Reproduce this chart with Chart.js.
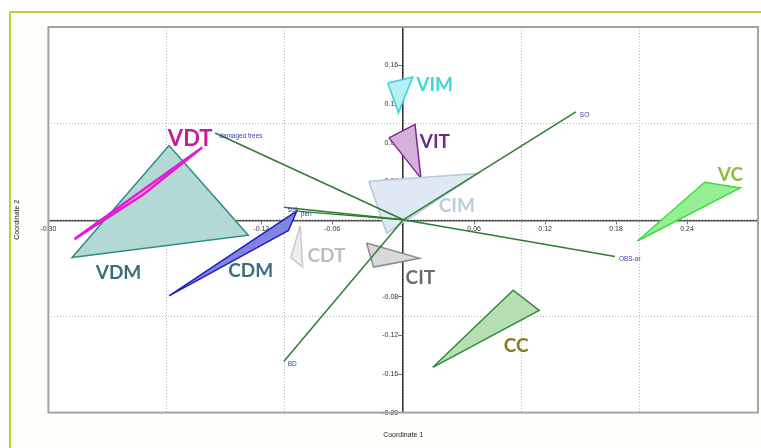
<!DOCTYPE html>
<html>
<head>
<meta charset="utf-8">
<script src="https://cdn.jsdelivr.net/npm/chart.js@4.4.1/dist/chart.umd.min.js"></script>
<style>
  html, body { margin: 0; padding: 0; background: #fff; overflow: hidden; }
  #frame { position: absolute; left: 9px; top: 11px; width: 800px; height: 500px;
           border-left: 2px solid #b9d04a; border-top: 2px solid #b9d04a; background: #fffef8; }
  #wrap { position: absolute; left: 0; top: 0; width: 761px; height: 448px; }
</style>
</head>
<body>
<div id="frame"></div>
<div id="wrap"><canvas id="pcoa"></canvas></div>
<script>
/* ===== data (Coordinate 1, Coordinate 2) ===== */
// first group is drawn on top
const groupNames = ["VDT", "VDM", "CDM", "CDT", "CIT", "CIM", "VIM", "VIT", "VC", "CC"];

// convex hulls of each group
const hullVDT = [[-0.278, -0.020], [-0.170, 0.075], [-0.220, 0.026]];
const hullVDM = [[-0.198, 0.077], [-0.280, -0.039], [-0.131, -0.016]];
const hullCDM = [[-0.198, -0.079], [-0.090, 0.009], [-0.097, -0.011]];
const hullCDT = [[-0.087, -0.006], [-0.095, -0.039], [-0.085, -0.049]];
const hullCIT = [[-0.031, -0.024], [-0.025, -0.049], [0.014, -0.040]];
const hullCIM = [[-0.029, 0.040], [0.063, 0.048], [-0.014, -0.014]];
const hullVIM = [[-0.013, 0.142], [0.008, 0.148], [-0.004, 0.111]];
const hullVIT = [[-0.012, 0.085], [0.010, 0.099], [0.015, 0.043]];
const hullVC  = [[0.198, -0.022], [0.255, 0.039], [0.285, 0.033]];
const hullCC  = [[0.025, -0.153], [0.093, -0.073], [0.115, -0.094]];

// where each group name sits (left edge, baseline)
const groupLabelX = [-0.199, -0.260, -0.148, -0.081, 0.002, 0.030, 0.011, 0.014, 0.266, 0.085];
const groupLabelY = [0.077, -0.061, -0.059, -0.044, -0.067, 0.008, 0.134, 0.074, 0.040, -0.137];

// environmental vectors
const vectorNames = ["damaged trees", "SO", "OBS-ar", "BD", "soil", "pen"];
const vectorX = [-0.159, 0.146, 0.179, -0.101, -0.101, -0.090];
const vectorY = [0.090, 0.112, -0.038, -0.147, 0.013, 0.009];

// axis ticks
const xTickStep = 0.06, yTickStep = 0.04, gridStep = 0.1;
const xRange = [-0.30, 0.30], yRange = [-0.20, 0.20];

/* ===== styles ===== */
const hulls = {
  VDM: hullVDM, VDT: hullVDT, CDM: hullCDM, CDT: hullCDT, CIT: hullCIT,
  CIM: hullCIM, VIM: hullVIM, VIT: hullVIT, VC: hullVC, CC: hullCC
};
const groupStyle = {
  VDM: { line: "#2f8c88", fill: "#b3d9d5", text: "#3b6c80", size: 19, w: 1.5 },
  VDT: { line: "#e01fd2", fill: "#f2a8ee", text: "#c8189e", size: 22, w: 2.5 },
  CDM: { line: "#2222c0", fill: "#8383e2", text: "#3b6c80", size: 19, w: 1.5 },
  CDT: { line: "#c8c8c8", fill: "#ededed", text: "#bdbdbd", size: 19, w: 1.5 },
  CIT: { line: "#8c8c8c", fill: "#d9d9d9", text: "#6b6b6b", size: 19, w: 1.5 },
  CIM: { line: "#b4c8de", fill: "#dfe9f5", text: "#b9cde0", size: 19, w: 1.5 },
  VIM: { line: "#35d2da", fill: "#b4f0f2", text: "#3dd6dc", size: 19, w: 1.5 },
  VIT: { line: "#7a2a8c", fill: "#d6b0d9", text: "#6b2b8a", size: 19, w: 1.5 },
  VC:  { line: "#3fdc3f", fill: "#94f094", text: "#8fba3a", size: 19, w: 1.5 },
  CC:  { line: "#2e8a3c", fill: "#b6dfb6", text: "#7f7f1f", size: 19, w: 1.5 }
};

/* ===== plugins ===== */
const plotBoxPlugin = {
  id: "plotBox",
  beforeDraw(chart) {
    const { ctx, chartArea: a } = chart;
    ctx.save();
    ctx.fillStyle = "#fff";
    ctx.fillRect(a.left, a.top, a.right - a.left, a.bottom - a.top);
    ctx.restore();
  },
  afterDraw(chart) {
    const { ctx, chartArea: a } = chart;
    ctx.save();
    ctx.strokeStyle = "#a3a3a3";
    ctx.lineWidth = 2;
    ctx.strokeRect(a.left, a.top, a.right - a.left, a.bottom - a.top);
    ctx.restore();
  }
};

const labelPlugin = {
  id: "names",
  afterDatasetsDraw(chart) {
    const { ctx, scales: { x, y } } = chart;
    ctx.save();
    ctx.textAlign = "left";
    ctx.textBaseline = "alphabetic";
    groupNames.forEach((g, i) => {
      const s = groupStyle[g];
      ctx.font = `bold ${s.size}px Lato`;
      ctx.fillStyle = s.text;
      ctx.fillText(g, x.getPixelForValue(groupLabelX[i]), y.getPixelForValue(groupLabelY[i]));
    });
    ctx.font = '6.5px "Liberation Sans"';
    ctx.fillStyle = "#3b3bb0";
    ctx.textBaseline = "middle";
    vectorNames.forEach((n, i) => {
      ctx.fillText(n, x.getPixelForValue(vectorX[i]) + 4, y.getPixelForValue(vectorY[i]) + 3);
    });
    ctx.restore();
  }
};

/* ===== datasets ===== */
const vectorSets = vectorNames.map((n, i) => ({
  label: n,
  data: [{ x: 0, y: 0 }, { x: vectorX[i], y: vectorY[i] }],
  borderColor: "#2f7d32",
  borderWidth: 1.5,
  pointRadius: 0,
  fill: false
}));

const hullSets = groupNames.map(g => {
  const pts = hulls[g].map(p => ({ x: p[0], y: p[1] }));
  pts.push(pts[0]);
  return {
    label: g,
    data: pts,
    borderColor: groupStyle[g].line,
    backgroundColor: groupStyle[g].fill,
    borderWidth: groupStyle[g].w,
    pointRadius: 0,
    fill: "shape"
  };
});

const tickFmt = (limit) => (v) => {
  if (Math.abs(v) < 1e-9 || v > limit - 1e-6) return "";
  return Number(v).toFixed(2);
};

new Chart(document.getElementById("pcoa"), {
  type: "line",
  data: { datasets: [...vectorSets, ...hullSets] },
  options: {
    responsive: true,
    maintainAspectRatio: false,
    animation: false,
    events: [],
    layout: { padding: { left: 9, top: 27, right: 3, bottom: 5 } },
    elements: { line: { tension: 0 } },
    plugins: { legend: { display: false }, tooltip: { enabled: false } },
    scales: {
      x: {
        type: "linear", position: "bottom",
        min: xRange[0], max: xRange[1],
        ticks: { display: false, stepSize: gridStep },
        grid: { color: "#b5b5b5", drawTicks: false },
        border: { display: false, dash: [1, 2] },
        title: { display: true, text: "Coordinate 1", color: "#222",
                 font: { size: 7, family: "Liberation Sans" }, padding: { top: 18, bottom: 4 } }
      },
      y: {
        type: "linear", position: "left",
        min: yRange[0], max: yRange[1],
        ticks: { display: false, stepSize: gridStep },
        grid: { color: "#b5b5b5", drawTicks: false },
        border: { display: false, dash: [1, 2] },
        title: { display: true, text: "Coordinate 2", color: "#222",
                 font: { size: 7, family: "Liberation Sans" }, padding: { top: 4, bottom: 27 } }
      },
      x0: {
        type: "linear", axis: "x", position: "center",
        min: xRange[0], max: xRange[1],
        ticks: { stepSize: xTickStep, autoSkip: false, maxRotation: 0, padding: 2,
                 color: "#333", font: { size: 7, family: "Liberation Sans" },
                 callback: tickFmt(xRange[1]) },
        grid: { drawOnChartArea: false, drawTicks: true, tickLength: 3, color: "#777" },
        border: { display: true, color: "#555", width: 1.5 }
      },
      y0: {
        type: "linear", axis: "y", position: "center",
        min: yRange[0], max: yRange[1],
        ticks: { stepSize: yTickStep, autoSkip: false, padding: 1,
                 color: "#333", font: { size: 7, family: "Liberation Sans" },
                 callback: tickFmt(yRange[1]) },
        grid: { drawOnChartArea: false, drawTicks: true, tickLength: 4, color: "#777" },
        border: { display: true, color: "#333", width: 1.5 }
      }
    }
  },
  plugins: [plotBoxPlugin, labelPlugin]
});
</script>
</body>
</html>
